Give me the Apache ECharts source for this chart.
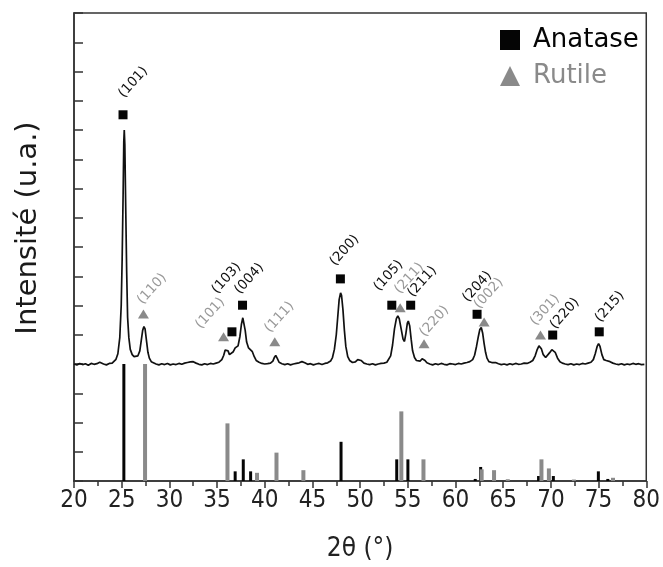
<!DOCTYPE html>
<html>
<head>
<meta charset="utf-8">
<script src="https://cdn.jsdelivr.net/npm/echarts@6/dist/echarts.min.js"></script>
<style>
html,body{margin:0;padding:0;background:#fff;}
#chart{width:663px;height:567px;}
</style>
</head>
<body>
<div id="chart"></div>
<script>
// ---------- DATA ----------
// measured XRD pattern (2theta, intensity in axis units)
const patternCurve = [
[20.0,4.00],[20.3,3.97],[20.6,4.02],[20.9,3.98],[21.2,4.01],[21.5,3.96],[21.8,4.02],[22.1,3.99],[22.4,4.01],[22.7,4.06],
[22.9,4.08],[23.1,4.00],[23.4,3.97],[23.7,4.02],[24.0,4.03],[24.2,4.08],[24.4,4.16],[24.6,4.35],[24.8,4.90],[24.95,6.00],
[25.05,7.60],[25.15,9.80],[25.22,11.6],[25.27,12.0],[25.33,11.5],[25.42,9.40],[25.52,7.20],[25.62,5.60],[25.75,4.90],[25.9,4.50],
[26.1,4.32],[26.3,4.25],[26.5,4.22],[26.7,4.28],[26.9,4.45],[27.05,4.80],[27.2,5.15],[27.33,5.28],[27.45,5.20],[27.6,4.80],
[27.75,4.40],[27.9,4.20],[28.1,4.08],[28.3,4.03],[28.6,4.00],[28.9,3.97],[29.2,4.01],[29.5,3.98],[29.8,4.02],[30.1,3.97],
[30.4,4.00],[30.7,3.98],[31.0,4.02],[31.3,3.99],[31.6,4.03],[31.9,4.05],[32.2,4.07],[32.5,4.08],[32.8,4.03],[33.1,3.99],
[33.4,3.97],[33.7,4.01],[34.0,3.98],[34.3,4.02],[34.6,4.00],[34.9,4.03],[35.2,4.06],[35.5,4.15],[35.7,4.30],[35.85,4.48],
[36.0,4.54],[36.15,4.45],[36.3,4.32],[36.5,4.30],[36.7,4.42],[36.9,4.55],[37.05,4.58],[37.2,4.62],[37.4,4.95],[37.55,5.35],
[37.7,5.58],[37.8,5.55],[37.95,5.15],[38.1,4.75],[38.3,4.55],[38.5,4.50],[38.7,4.42],[38.9,4.25],[39.1,4.12],[39.4,4.06],
[39.7,4.02],[40.0,4.00],[40.3,4.01],[40.6,4.03],[40.85,4.10],[41.0,4.22],[41.15,4.29],[41.3,4.20],[41.5,4.06],[41.8,4.01],
[42.1,3.98],[42.4,4.01],[42.7,3.97],[43.0,4.00],[43.3,4.02],[43.6,4.04],[43.9,4.08],[44.2,4.04],[44.5,3.99],[44.8,4.01],
[45.1,3.97],[45.4,4.00],[45.7,4.02],[46.0,3.98],[46.3,4.02],[46.6,4.04],[46.9,4.10],[47.1,4.22],[47.3,4.50],[47.5,5.00],
[47.65,5.60],[47.8,6.20],[47.95,6.43],[48.05,6.35],[48.2,5.85],[48.35,5.15],[48.5,4.60],[48.7,4.25],[48.9,4.12],[49.2,4.05],
[49.5,4.07],[49.75,4.15],[49.9,4.20],[50.1,4.12],[50.4,4.03],[50.7,4.00],[51.0,3.98],[51.3,4.01],[51.6,3.97],[51.9,4.00],
[52.2,4.02],[52.5,4.03],[52.8,4.06],[53.0,4.12],[53.2,4.28],[53.4,4.65],[53.6,5.20],[53.8,5.55],[53.95,5.64],[54.1,5.55],
[54.3,5.20],[54.5,4.85],[54.65,4.77],[54.8,5.05],[54.95,5.40],[55.05,5.47],[55.2,5.30],[55.35,4.85],[55.5,4.45],[55.7,4.22],
[55.9,4.12],[56.1,4.08],[56.3,4.10],[56.5,4.18],[56.6,4.20],[56.8,4.12],[57.0,4.04],[57.3,4.00],[57.6,3.97],[57.9,4.01],
[58.2,3.98],[58.5,4.02],[58.8,3.99],[59.1,3.97],[59.4,4.01],[59.7,4.00],[60.0,3.98],[60.3,4.02],[60.6,4.00],[60.9,4.03],
[61.2,4.05],[61.5,4.08],[61.8,4.15],[62.0,4.30],[62.2,4.60],[62.4,4.95],[62.55,5.18],[62.7,5.25],[62.85,5.05],[63.0,4.70],
[63.15,4.40],[63.3,4.20],[63.5,4.08],[63.8,4.05],[64.0,4.08],[64.2,4.05],[64.5,4.01],[64.8,3.98],[65.1,4.00],[65.4,3.97],
[65.7,4.01],[66.0,3.98],[66.3,4.02],[66.6,3.99],[66.9,4.00],[67.2,4.03],[67.5,4.02],[67.8,4.06],[68.1,4.12],[68.35,4.28],
[68.55,4.48],[68.75,4.62],[68.85,4.63],[69.0,4.52],[69.2,4.32],[69.45,4.22],[69.65,4.25],[69.85,4.38],[70.1,4.49],[70.25,4.51],
[70.45,4.40],[70.7,4.20],[70.95,4.08],[71.2,4.03],[71.5,4.00],[71.8,3.98],[72.1,4.01],[72.4,3.97],[72.7,4.00],[73.0,3.98],
[73.3,4.02],[73.6,4.00],[73.9,4.03],[74.2,4.06],[74.45,4.15],[74.65,4.35],[74.85,4.60],[75.0,4.70],[75.15,4.60],[75.35,4.32],
[75.55,4.15],[75.8,4.12],[76.0,4.13],[76.2,4.08],[76.5,4.03],[76.8,4.00],[77.1,3.98],[77.4,4.01],[77.7,3.97],[78.0,4.00],
[78.3,3.98],[78.6,4.02],[78.9,3.99],[79.2,4.01],[79.5,3.98],[79.8,3.99]
];

// peak markers
const anataseX   = [25.14, 36.56, 37.67, 47.93, 53.32, 55.30, 62.26, 70.19, 75.07];
const anataseY   = [12.52, 5.10, 6.01, 6.91, 6.01, 6.01, 5.70, 4.99, 5.10];
const anataseHkl = ['(101)','(103)','(004)','(200)','(105)','(211)','(204)','(220)','(215)'];

const rutileX    = [27.28, 35.68, 41.05, 54.20, 56.70, 63.00, 68.91];
const rutileY    = [5.71, 4.93, 4.76, 5.92, 4.69, 5.44, 4.99];
const rutileHkl  = ['(110)','(101)','(111)','(211)','(220)','(002)','(301)'];

// reference sticks (JCPDS-like)
const anataseRefX = [25.28, 36.95, 37.80, 38.57, 48.05, 53.89, 55.06, 62.12, 62.69, 68.76, 70.31, 75.03, 76.02];
const anataseRefI = [4.00, 0.33, 0.74, 0.33, 1.34, 0.74, 0.74, 0.07, 0.48, 0.17, 0.17, 0.33, 0.07];
const rutileRefX  = [27.45, 36.09, 39.19, 41.23, 44.05, 54.32, 56.64, 62.74, 64.04, 65.48, 69.01, 69.79, 72.41, 76.51];
const rutileRefI  = [4.00, 1.97, 0.28, 0.97, 0.37, 2.38, 0.74, 0.40, 0.37, 0.06, 0.74, 0.43, 0.05, 0.11];

const legendNames = ['Anatase', 'Rutile'];
const xAxisTitle = '2θ (°)';
const yAxisTitle = 'Intensité (u.a.)';

// ---------- LAYOUT (label start offsets on screen in px, relative to marker centre) ----------
const anataseLabelOffset = [[-2,-19],[-17.5,-40],[-5.5,-13],[-8,-15],[-15.5,-16],[-0.5,-10],[-12,-14],[0,-8],[-1.5,-11.5]];
const rutileLabelOffset  = [[-3.5,-11.5],[-25.5,-10],[-7.5,-11],[-3,-16],[-2,-9],[-7.5,-15],[-7.5,-11.5]];
const LABEL_ROT = 48;

const BLACK = '#050505';
const GREY = '#8a8a8a';
const LABEL_GREY = '#999999';

// label offset is applied in the rotated frame: convert screen offset -> local offset
function toLocal(off) {
  const a = LABEL_ROT * Math.PI / 180;
  const ux = [Math.cos(a), -Math.sin(a)];
  const uy = [Math.sin(a), Math.cos(a)];
  return [off[0] * ux[0] + off[1] * ux[1], off[0] * uy[0] + off[1] * uy[1]];
}
function markerData(xs, ys, names, offs) {
  return xs.map((x, i) => ({
    value: [x, ys[i]],
    name: names[i],
    label: { offset: toLocal(offs[i]) }
  }));
}
function stickData(xs, hs) { return xs.map((x, i) => [x, hs[i]]); }

const chart = echarts.init(document.getElementById('chart'), null, { renderer: 'canvas' });

const labelBase = {
  show: true,
  position: 'inside',
  align: 'left',
  verticalAlign: 'middle',
  rotate: LABEL_ROT,
  fontSize: 13.5,
  fontFamily: 'DejaVu Sans',
  formatter: p => p.name
};
const narrow = 'Liberation Sans Narrow, DejaVu Sans Condensed, sans-serif';

chart.setOption({
  animation: false,
  backgroundColor: '#fff',
  grid: { left: 74, right: 14, top: 13, bottom: 81, show: true, borderColor: '#333', borderWidth: 1.5, backgroundColor: 'transparent' },
  legend: {
    orient: 'vertical',
    left: 500, top: 27,
    padding: 0,
    itemWidth: 20, itemHeight: 20, itemGap: 10,
    textStyle: { fontSize: 26, fontFamily: 'DejaVu Sans', padding: [0, 0, 0, 8] },
    data: [
      { name: legendNames[0], icon: 'rect', itemStyle: { color: BLACK, opacity: 1 }, textStyle: { color: BLACK } },
      { name: legendNames[1], icon: 'triangle', itemStyle: { color: GREY, opacity: 1 }, textStyle: { color: GREY } }
    ],
    selectedMode: false
  },
  xAxis: {
    type: 'value', min: 20, max: 80, interval: 5,
    name: xAxisTitle, nameLocation: 'middle', nameGap: 55,
    nameTextStyle: { fontSize: 26, fontFamily: narrow, color: '#222' },
    axisLine: { show: true, onZero: false, lineStyle: { color: '#333', width: 1.5 } },
    axisTick: { show: true, inside: false, length: 7, lineStyle: { color: '#333', width: 1.5 } },
    minorTick: { show: true, splitNumber: 2, length: 5, lineStyle: { color: '#333', width: 1.5 } },
    axisLabel: { fontSize: 24, margin: 8, color: '#222', fontFamily: narrow },
    splitLine: { show: false }, minorSplitLine: { show: false }
  },
  yAxis: {
    type: 'value', min: 0, max: 16, interval: 1,
    axisLine: { show: true, lineStyle: { color: '#333', width: 1.5 } },
    axisTick: { show: true, inside: true, length: 9, lineStyle: { color: '#333', width: 1.5 } },
    axisLabel: { show: false },
    splitLine: { show: false }
  },
  graphic: [{
    type: 'text', x: 28, y: 228, rotation: Math.PI / 2,
    style: { text: yAxisTitle, fontSize: 29, fontFamily: 'DejaVu Sans', fill: '#1a1a1a', textAlign: 'center', textVerticalAlign: 'middle' }
  }],
  series: [
    {
      name: 'Anatase ref', type: 'bar', barWidth: 3, barGap: '-100%',
      itemStyle: { color: BLACK }, data: stickData(anataseRefX, anataseRefI), z: 2
    },
    {
      name: 'Rutile ref', type: 'bar', barWidth: 4, barGap: '-100%',
      itemStyle: { color: GREY }, data: stickData(rutileRefX, rutileRefI), z: 2
    },
    {
      name: 'pattern', type: 'line', showSymbol: false, smooth: false,
      lineStyle: { color: '#111', width: 1.7 }, data: patternCurve, z: 3
    },
    {
      name: legendNames[0], type: 'scatter', symbol: 'rect', symbolSize: 9,
      itemStyle: { color: BLACK, opacity: 1 },
      label: Object.assign({}, labelBase, { color: '#111' }),
      data: markerData(anataseX, anataseY, anataseHkl, anataseLabelOffset), z: 5
    },
    {
      name: legendNames[1], type: 'scatter', symbol: 'triangle', symbolSize: [11, 9],
      itemStyle: { color: GREY, opacity: 1 },
      label: Object.assign({}, labelBase, { color: LABEL_GREY }),
      data: markerData(rutileX, rutileY, rutileHkl, rutileLabelOffset), z: 4
    }
  ]
});
</script>
</body>
</html>
